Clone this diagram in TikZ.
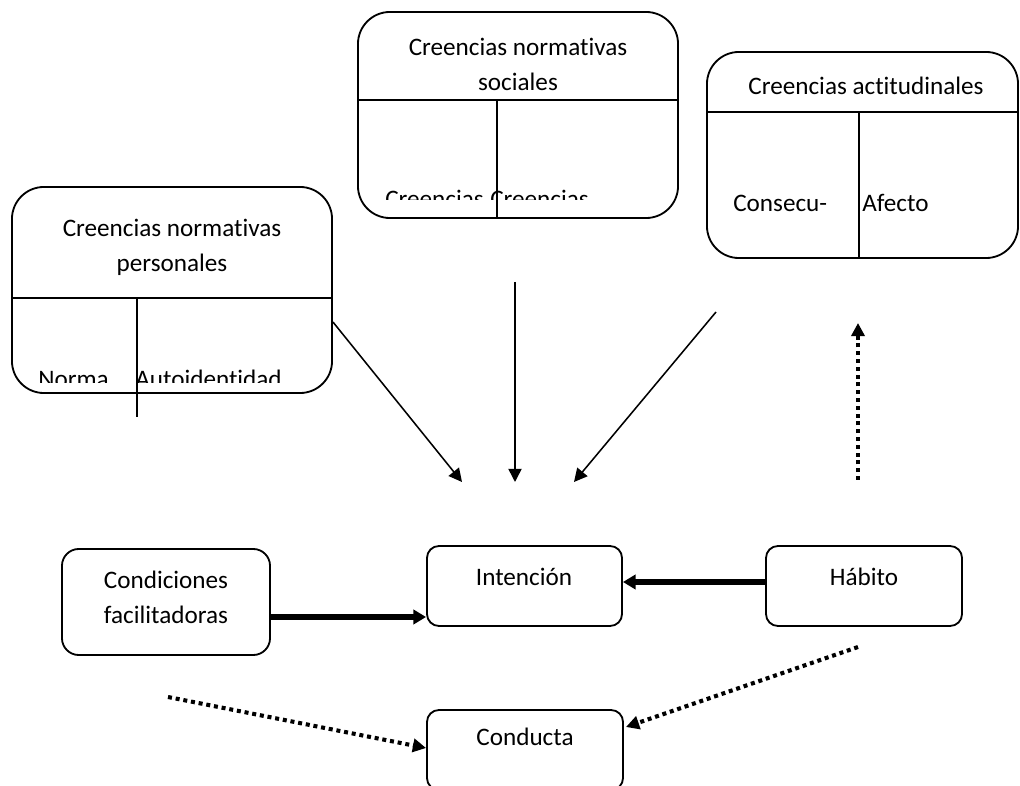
\documentclass[tikz,border=0pt]{standalone}
\usepackage{fontspec}
\setmainfont[Ligatures=NoCommon]{Carlito}
\usetikzlibrary{arrows.meta, calc}
\tikzstyle{bigbox} = [rectangle, rounded corners=0.8cm, draw=black, line width=1.3pt, minimum width=8cm, minimum height=5.15cm]
\tikzstyle{smallbox} = [rectangle, rounded corners=0.3cm, draw=black, line width=1.3pt, minimum width=4.9cm, minimum height=2cm]
\tikzstyle{txt} = [inner sep=0pt, font=\fontsize{17.9}{24.8}\selectfont, align=center]
\tikzstyle{divider} = [line width=1.1pt]
\tikzstyle{arrow} = [line width=1.1pt, -{Triangle[length=0.33cm, width=0.33cm]}]
\tikzstyle{thickarrow} = [line width=3.6pt, -{Triangle[length=0.32cm, width=0.36cm]}]
\tikzstyle{dotarrow} = [line width=2.9pt, dash pattern=on 0.1cm off 0.095cm, -{Triangle[length=0.33cm, width=0.33cm]}]

\begin{document}
\begin{tikzpicture}[x=0.025cm, y=-0.025cm]
\useasboundingbox (0,0) rectangle (1020,786);
\clip (0,0) rectangle (1020,786);

% Belief boxes
\node (personales) [bigbox] at (172,290) {};
\node (sociales) [bigbox] at (518,115) {};
\node (actitudinales) [bigbox, minimum width=7.775cm] at (862.5,155) {};

\draw [divider] ($(personales.west)+(0,8)$) -- ($(personales.east)+(0,8)$);
\draw [divider] ($(personales.center)+(-35,8)$) -- ($(personales.center)+(-35,127)$);
\draw [divider] ($(sociales.west)+(0,-15)$) -- ($(sociales.east)+(0,-15)$);
\draw [divider] ($(sociales.center)+(-21,-15)$) -- ($(sociales.south)+(-21,0)$);
\draw [divider] ($(actitudinales.west)+(0,-43)$) -- ($(actitudinales.east)+(0,-43)$);
\draw [divider] ($(actitudinales.center)+(-3.5,-43)$) -- ($(actitudinales.south)+(-3.5,0)$);

\node (personales-tit) [txt] at (172,247.5) {Creencias normativas\\personales};
\node (sociales-tit) [txt] at (518,64.5) {Creencias normativas\\sociales};
\node (actitudinales-tit) [txt, anchor=base] at (866,95) {Creencias actitudinales};

% Cell texts (cut off as in the source)
\begin{scope}
\clip (12,298) rectangle (332,383);
\node (norma) [txt, anchor=base west] at (38,388) {Norma};
\node (autoid) [txt, anchor=base west] at (135,388) {Autoidentidad};
\end{scope}
\begin{scope}
\clip (358,100) rectangle (678,200);
\node (creen-a) [txt, anchor=base west] at (385,208) {Creencias};
\node (creen-b) [txt, anchor=base west] at (490,208) {Creencias};
\end{scope}
\node (consecu) [txt, anchor=base west] at (733,212) {Consecu-};
\node (afecto) [txt, anchor=base west] at (862,212) {Afecto};

% Lower boxes
\node (intencion) [smallbox, minimum width=4.875cm] at (524.5,586) {};
\node (habito) [smallbox] at (864,586) {};
\node (condiciones) [smallbox, rounded corners=0.42cm, minimum width=5.2cm, minimum height=2.65cm] at (166,602) {};
\node (conducta) [smallbox] at (525,750) {};

\node (intencion-txt) [txt, anchor=base] at (524,586) {Intención};
\node (habito-txt) [txt, anchor=base] at (864,586) {Hábito};
\node (condiciones-txt) [txt] at (166,597) {Condiciones\\facilitadoras};
\node (conducta-txt) [txt, anchor=base] at (525,745) {Conducta};

% Free arrow ends
\coordinate (pers-out) at ($(personales.east)+(0,32)$);
\coordinate (tip-left) at (462,482);
\coordinate (soc-out) at (515,282);
\coordinate (tip-mid) at (515,482);
\coordinate (act-out) at (716,312);
\coordinate (tip-right) at (574,482);
\coordinate (hab-up) at (858,480);
\coordinate (act-in) at (858,323);
\coordinate (fac-out) at (168,697);
\coordinate (hab-out) at (858,647);
\coordinate (fac-row) at (0,617);
\coordinate (hab-row) at (0,582);
\coordinate (cond-left) at (0,748);
\coordinate (cond-right) at (0,727);

% Arrows
\draw [arrow] (pers-out) -- (tip-left);
\draw [arrow] (soc-out) -- (tip-mid);
\draw [arrow] (act-out) -- (tip-right);
\draw [thickarrow] (condiciones.east |- fac-row) -- (intencion.west |- fac-row);
\draw [thickarrow] (habito.west |- hab-row) -- (intencion.east |- hab-row);
\draw [dotarrow] (hab-up) -- (act-in);
\draw [dotarrow] (fac-out) -- (conducta.west |- cond-left);
\draw [dotarrow] (hab-out) -- ($(conducta.east |- cond-right)+(2,0)$);

\end{tikzpicture}
\end{document}
